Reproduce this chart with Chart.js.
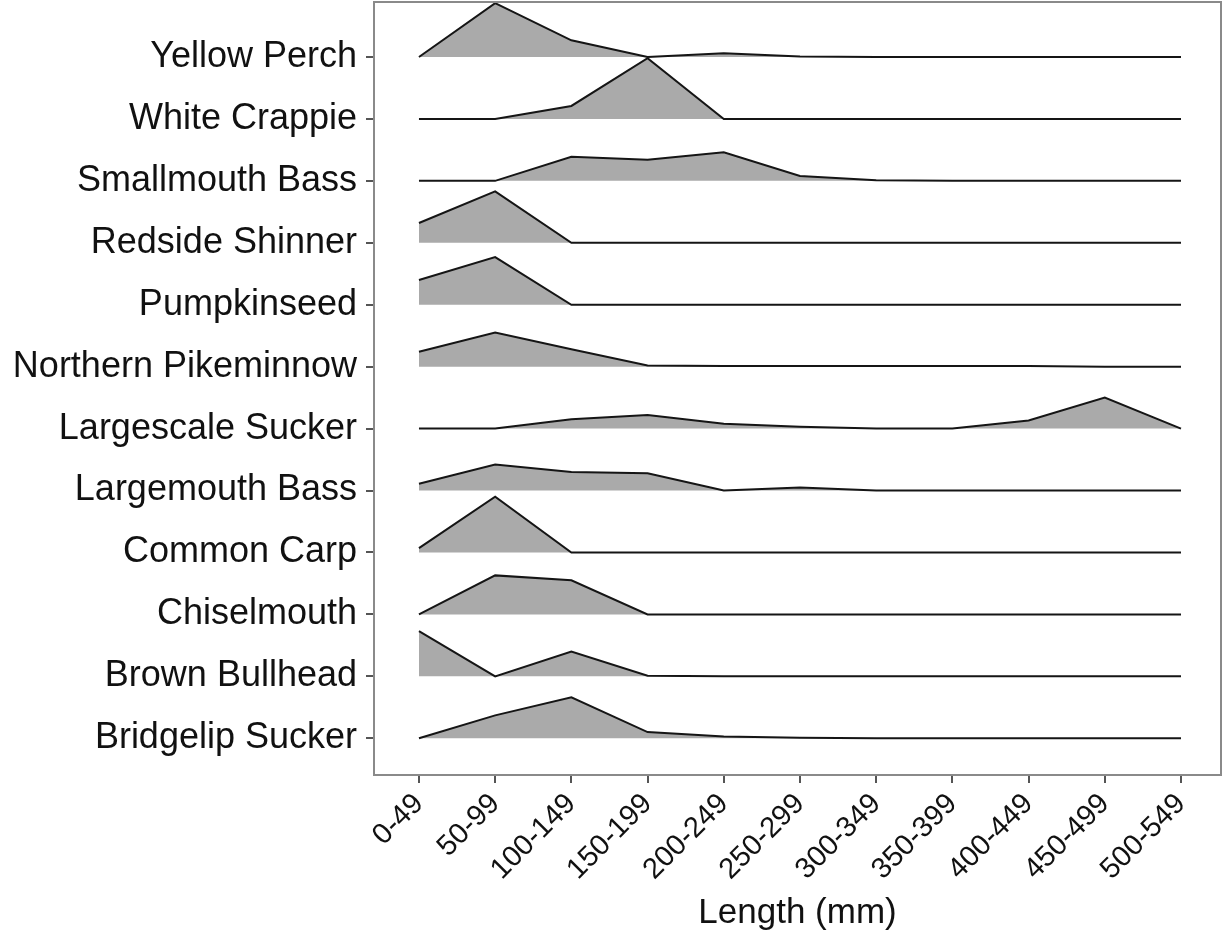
<!DOCTYPE html>
<html>
<head>
<meta charset="utf-8">
<script src="https://cdn.jsdelivr.net/npm/chart.js@4/dist/chart.umd.min.js"></script>
<style>
  html, body { margin: 0; padding: 0; background: #ffffff; }
  #wrap { width: 1222px; height: 938px; }
</style>
</head>
<body>
<div id="wrap"><canvas id="c" width="1222" height="938"></canvas></div>
<script>
// Length bins (x tick labels)
const lengthBins = ["0-49","50-99","100-149","150-199","200-249","250-299","300-349","350-399","400-449","450-499","500-549"];

// Species, listed from bottom row to top row
const species = ["Bridgelip Sucker","Brown Bullhead","Chiselmouth","Common Carp","Largemouth Bass","Largescale Sucker","Northern Pikeminnow","Pumpkinseed","Redside Shinner","Smallmouth Bass","White Crappie","Yellow Perch"];

// Relative frequency per length bin (scaled ridge height; 1 = one row spacing)
const bridgelipSucker    = [0.00, 0.37, 0.66, 0.10, 0.03, 0.01, 0.00, 0.00, 0.00, 0.00, 0.00];
const brownBullhead      = [0.73, 0.00, 0.40, 0.01, 0.00, 0.00, 0.00, 0.00, 0.00, 0.00, 0.00];
const chiselmouth        = [0.00, 0.63, 0.55, 0.00, 0.00, 0.00, 0.00, 0.00, 0.00, 0.00, 0.00];
const commonCarp         = [0.07, 0.90, 0.00, 0.00, 0.00, 0.00, 0.00, 0.00, 0.00, 0.00, 0.00];
const largemouthBass     = [0.11, 0.42, 0.30, 0.28, 0.00, 0.05, 0.00, 0.00, 0.00, 0.00, 0.00];
const largescaleSucker   = [0.00, 0.00, 0.15, 0.22, 0.08, 0.03, 0.00, 0.00, 0.13, 0.50, 0.00];
const northernPikeminnow = [0.24, 0.55, 0.28, 0.02, 0.01, 0.01, 0.01, 0.01, 0.01, 0.00, 0.00];
const pumpkinseed        = [0.40, 0.77, 0.00, 0.00, 0.00, 0.00, 0.00, 0.00, 0.00, 0.00, 0.00];
const redsideShinner     = [0.32, 0.83, 0.00, 0.00, 0.00, 0.00, 0.00, 0.00, 0.00, 0.00, 0.00];
const smallmouthBass     = [0.00, 0.00, 0.39, 0.34, 0.46, 0.08, 0.01, 0.00, 0.00, 0.00, 0.00];
const whiteCrappie       = [0.00, 0.00, 0.21, 0.98, 0.00, 0.00, 0.00, 0.00, 0.00, 0.00, 0.00];
const yellowPerch        = [0.00, 0.87, 0.27, 0.00, 0.06, 0.01, 0.00, 0.00, 0.00, 0.00, 0.00];

const seriesValues = [bridgelipSucker, brownBullhead, chiselmouth, commonCarp, largemouthBass,
  largescaleSucker, northernPikeminnow, pumpkinseed, redsideShinner, smallmouthBass, whiteCrappie, yellowPerch];

const FONT = "'Liberation Sans', Arial, Helvetica, sans-serif";

const datasets = seriesValues.map((vals, i) => ({
  label: species[i],
  data: vals.map((v, j) => ({ x: j, y: i + v })),
  borderColor: '#151515',
  borderWidth: 2,
  backgroundColor: '#aaaaaa',
  fill: { value: i },
  pointRadius: 0,
  pointHoverRadius: 0,
  tension: 0,
  clip: false
}));

const framePlugin = {
  id: 'frame',
  afterDatasetsDraw(chart) {
    const a = chart.chartArea;
    const ctx = chart.ctx;
    ctx.save();
    ctx.strokeStyle = '#8a8a8a';
    ctx.lineWidth = 2;
    ctx.strokeRect(a.left, a.top, a.right - a.left, a.bottom - a.top);
    ctx.restore();
  }
};

new Chart(document.getElementById('c'), {
  type: 'line',
  data: { datasets },
  options: {
    responsive: false,
    animation: false,
    events: [],
    layout: { padding: { top: 2, right: 1, left: 0, bottom: 0 } },
    plugins: { legend: { display: false }, tooltip: { enabled: false } },
    scales: {
      x: {
        type: 'linear',
        min: -0.59,
        max: 10.525,
        afterBuildTicks(scale) { scale.ticks = lengthBins.map((_, j) => ({ value: j })); },
        afterFit(scale) {
          scale.height = 163;
          scale.paddingLeft = 0; scale.paddingRight = 0;
          scale.paddingTop = 0; scale.paddingBottom = 0;
        },
        ticks: {
          callback: (v) => lengthBins[v],
          minRotation: 45,
          maxRotation: 45,
          autoSkip: false,
          font: { family: FONT, size: 29 },
          color: '#111111',
          padding: 4
        },
        grid: { drawOnChartArea: false, drawTicks: true, tickLength: 8, tickColor: '#555555', lineWidth: 2 },
        border: { display: false },
        title: {
          display: true,
          text: 'Length (mm)',
          font: { family: FONT, size: 35 },
          color: '#111111',
          padding: { top: 0, bottom: 4 }
        }
      },
      y: {
        type: 'linear',
        min: -0.593,
        max: 11.888,
        afterBuildTicks(scale) { scale.ticks = species.map((_, i) => ({ value: i })); },
        afterFit(scale) {
          scale.width = 374;
          scale.paddingTop = 0; scale.paddingBottom = 0;
          scale.paddingLeft = 0; scale.paddingRight = 0;
        },
        ticks: {
          callback: (v) => species[v],
          autoSkip: false,
          font: { family: FONT, size: 36 },
          color: '#111111',
          padding: 9
        },
        grid: { drawOnChartArea: false, drawTicks: true, tickLength: 8, tickColor: '#555555', lineWidth: 2 },
        border: { display: false }
      }
    }
  },
  plugins: [framePlugin]
});
</script>
</body>
</html>
